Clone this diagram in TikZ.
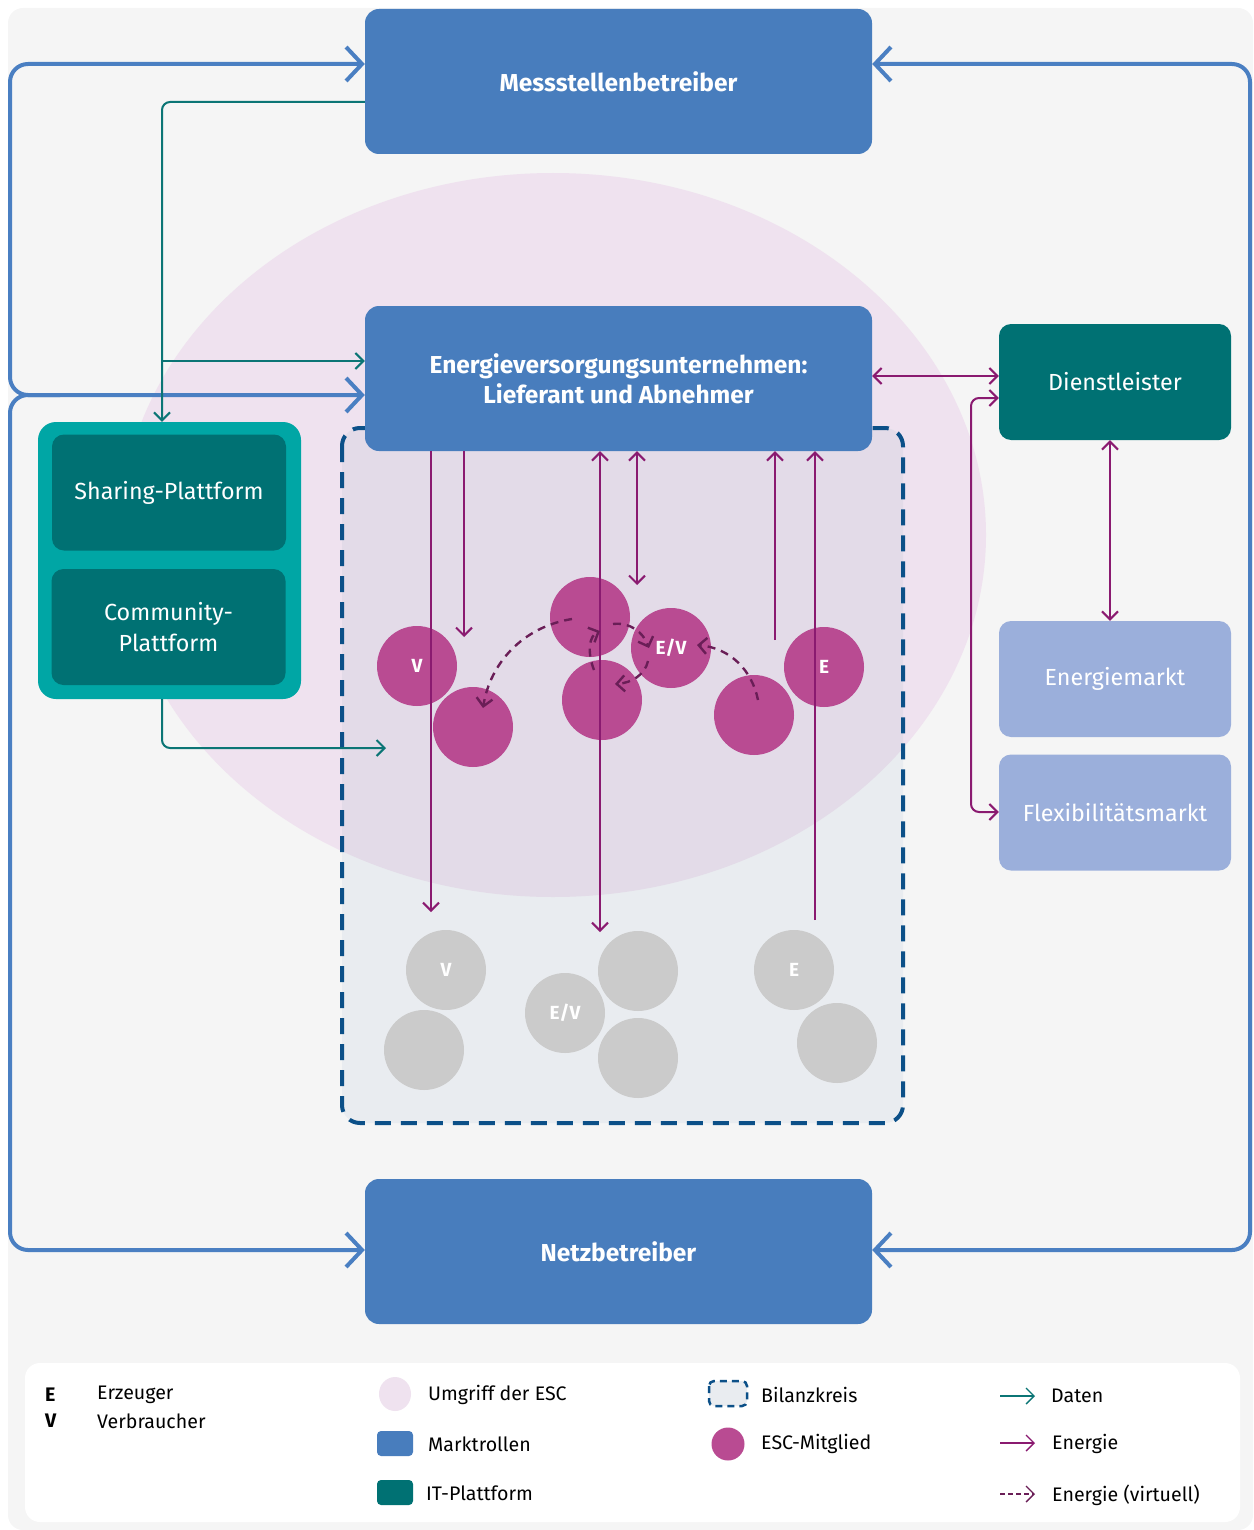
\documentclass[tikz,border=0pt]{standalone}
\usepackage{fontspec}
\setmainfont{Fira Sans}
\usetikzlibrary{arrows.meta}
\definecolor{hgrau}{HTML}{F5F5F5}
\definecolor{rollblau}{HTML}{487DBD}
\definecolor{linieblau}{HTML}{4A7FC2}
\definecolor{umgriffrosa}{HTML}{EFE2EF}
\definecolor{bilanzgrau}{HTML}{E9ECF0}
\definecolor{bilanzrosa}{HTML}{E3DBE8}
\definecolor{bilanzrand}{HTML}{0C5088}
\definecolor{mitgliedlila}{HTML}{B94B92}
\definecolor{externgrau}{HTML}{CBCBCB}
\definecolor{energielila}{HTML}{8A1A70}
\definecolor{virtuelllila}{HTML}{6A1E57}
\definecolor{datentuerkis}{HTML}{0B7575}
\definecolor{plattaussen}{HTML}{00A6A5}
\definecolor{plattinnen}{HTML}{007173}
\definecolor{marktblau}{HTML}{9BAFDB}
\begin{document}
\begin{tikzpicture}[x=1pt,y=-1pt,>={Straight Barb[length=8pt,width=16pt]},
    rolle/.style={fill=rollblau,rounded corners=14pt,minimum width=507pt,minimum height=145pt,text=white,align=center,font=\bfseries\fontsize{24.5}{30}\selectfont},
    plattform/.style={fill=plattinnen,rounded corners=12pt,minimum width=234pt,minimum height=116pt,text=white,align=center,font=\fontsize{23.3}{31}\selectfont},
    markt/.style={fill=marktblau,rounded corners=12pt,minimum width=232pt,minimum height=116pt,text=white,font=\fontsize{23.3}{26}\selectfont},
    mitglied/.style={circle,fill=mitgliedlila,minimum size=80pt,inner sep=0pt,text=white,font=\bfseries\fontsize{19}{20}\selectfont},
    extern/.style={circle,fill=externgrau,minimum size=80pt,inner sep=0pt,text=white,font=\bfseries\fontsize{19}{20}\selectfont},
    rollenlinie/.style={draw=linieblau,line width=4pt,rounded corners=18pt,>={Straight Barb[length=16pt,width=34pt]}},
    daten/.style={draw=datentuerkis,line width=2pt,rounded corners=8pt},
    energie/.style={draw=energielila,line width=2pt,rounded corners=8pt},
    virtuell/.style={draw=virtuelllila,line width=2.4pt,dash pattern=on 8pt off 6pt},
    legtext/.style={anchor=west,inner sep=0pt,font=\fontsize{19.6}{22}\selectfont}]
\useasboundingbox (0,0) rectangle (1253,1530);
\fill[hgrau,rounded corners=15pt] (8,8) rectangle (1253,1530);
\fill[umgriffrosa] (553,535) ellipse [x radius=433pt,y radius=362pt];
\fill[bilanzgrau,rounded corners=18pt] (342,428) rectangle (903,1123);
\begin{scope}
  \clip[rounded corners=18pt] (342,428) rectangle (903,1123);
  \fill[bilanzrosa] (553,535) ellipse [x radius=433pt,y radius=362pt];
\end{scope}
\draw[bilanzrand,line width=4pt,dash pattern=on 16pt off 10pt,rounded corners=18pt] (342,428) rectangle (903,1123);

\node[rolle] (mess) at (618.5,81.5) {Messstellenbetreiber};
\node[rolle] (evu) at (618.5,378.5) {Energieversorgungsunternehmen:\\Lieferant und Abnehmer};
\node[rolle] (netz) at (618.5,1251.5) {Netzbetreiber};

\node[fill=plattaussen,rounded corners=18pt,minimum width=263pt,minimum height=277pt] (plattform) at (169.5,560.5) {};
\node[plattform] (sharing) at (169,492.5) {Sharing-Plattform};
\node[plattform] (community) at (168.5,627) {Community-\\Plattform};

\node[markt,fill=plattinnen] (dienst) at (1115,382) {Dienstleister};
\node[markt] (emarkt) at (1115,679) {Energiemarkt};
\node[markt] (flex) at (1115,812.5) {Flexibilitätsmarkt};

\node[mitglied] (m1) at (417,666) {V};
\node[mitglied] (m2) at (473,727) {};
\node[mitglied] (m3) at (590,617) {};
\node[mitglied] (m4) at (602,700) {};
\node[mitglied] (m5) at (671,648) {E/V};
\node[mitglied] (m6) at (754,715) {};
\node[mitglied] (m7) at (824,667) {E};

\node[extern] (x1) at (446,970) {V};
\node[extern] (x2) at (424,1050) {};
\node[extern] (x3) at (565,1013) {E/V};
\node[extern] (x4) at (638,971) {};
\node[extern] (x5) at (638,1058) {};
\node[extern] (x6) at (794,970) {E};
\node[extern] (x7) at (837,1043) {};

\coordinate (lk) at (10,395);
\coordinate (rk) at (1250,650);
\draw[rollenlinie,<->] (mess.west |- 0,64) -| (lk) -- (evu.west |- lk);
\draw[rollenlinie,->] (60,395) -- (lk) |- (netz.west |- 0,1250);
\draw[rollenlinie,<->] (mess.east |- 0,64) -| (rk) |- (netz.east |- 0,1250);

\coordinate (dk) at (162,102);
\coordinate (dz) at (162,361);
\coordinate (dp) at (386,748);
\draw[daten,->] (mess.west |- dk) -- (dk) -- (plattform.north -| dk);
\draw[daten,->] (dz) -- (evu.west |- dz);
\draw[daten,->] (plattform.south -| dk) |- (dp);

\coordinate (v1) at (431,912);
\coordinate (v2) at (464,637);
\coordinate (v3) at (600,932);
\coordinate (v4) at (637,585);
\coordinate (v5) at (775,640);
\coordinate (v6) at (815,920);
\draw[energie,->] (evu.south -| v1) -- (v1);
\draw[energie,->] (evu.south -| v2) -- (v2);
\draw[energie,<->] (evu.south -| v3) -- (v3);
\draw[energie,<->] (evu.south -| v4) -- (v4);
\draw[energie,->] (v5) -- (evu.south -| v5);
\draw[energie,->] (v6) -- (evu.south -| v6);

\draw[energie,<->] (evu.east |- 0,376) -- (dienst.west |- 0,376);
\draw[energie,<->] (dienst.south -| 1110,0) -- (emarkt.north -| 1110,0);
\draw[energie,<->] (dienst.west |- 0,398) -| (971,600) |- (flex.west |- 0,812);

\draw[virtuell,->] (572,619) .. controls (522,627) and (490,664) .. (483,708);
\draw[virtuell,->] (594,670) .. controls (587,652) and (589,636) .. (600,631);
\draw[virtuell,->] (613,624) .. controls (630,622) and (643,632) .. (649,648);
\draw[virtuell,->] (648,661) .. controls (645,675) and (631,683) .. (615,684);
\draw[virtuell,->] (758,700) .. controls (752,670) and (730,648) .. (697,645);

\fill[white,rounded corners=15pt] (25,1363) rectangle (1240,1522);
\node[legtext,font=\bfseries\fontsize{19.6}{22}\selectfont] (lE) at (45,1395) {E};
\node[legtext] (lEt) at (97,1395) {Erzeuger};
\node[legtext,font=\bfseries\fontsize{19.6}{22}\selectfont] (lV) at (45,1421) {V};
\node[legtext] (lVt) at (97,1421) {Verbraucher};
\fill[umgriffrosa] (395,1394) ellipse [x radius=16pt,y radius=17pt];
\node[legtext] (lu) at (428,1395) {Umgriff der ESC};
\fill[rollblau,rounded corners=4pt] (377,1431) rectangle (413,1456);
\node[legtext] (lm) at (428,1444) {Marktrollen};
\fill[plattinnen,rounded corners=4pt] (377,1480) rectangle (413,1505);
\node[legtext] (li) at (426,1493) {IT-Plattform};
\draw[bilanzrand,fill=bilanzgrau,line width=2.5pt,dash pattern=on 7pt off 5pt,rounded corners=5pt] (709,1381) rectangle (747,1406);
\node[legtext] (lb) at (761,1395) {Bilanzkreis};
\fill[mitgliedlila] (728,1444) circle (16.5pt);
\node[legtext] (le) at (761,1444) {ESC-Mitglied};
\draw[datentuerkis,line width=1.4pt,->] (1000,1396) -- (1035,1396);
\node[legtext] (ld) at (1051,1396) {Daten};
\draw[energielila,line width=1.4pt,->] (1000,1443) -- (1035,1443);
\node[legtext] (len) at (1052,1444) {Energie};
\draw[virtuelllila,line width=1.4pt,dash pattern=on 5pt off 3pt,->] (1000,1494) -- (1035,1494);
\node[legtext] (lv) at (1052,1495) {Energie (virtuell)};
\end{tikzpicture}
\end{document}
